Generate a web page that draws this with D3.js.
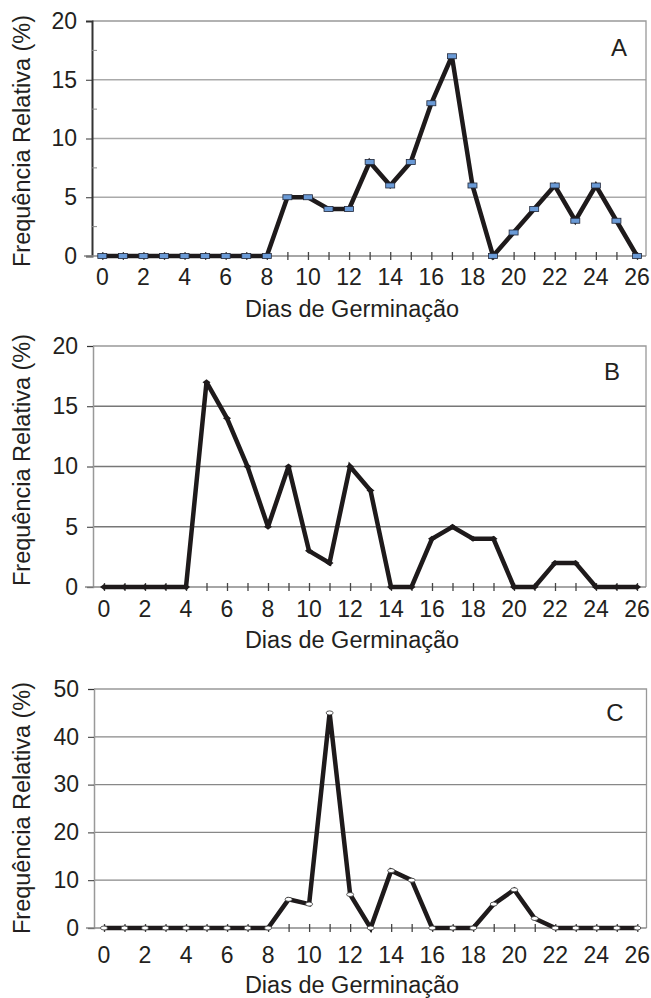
<!DOCTYPE html>
<html>
<head>
<meta charset="utf-8">
<script src="https://cdn.jsdelivr.net/npm/d3@7"></script>
<style>
  body { margin: 0; background: #fff; }
  text { font-family: "Liberation Sans", Arial, sans-serif; fill: #231f20; }
</style>
</head>
<body>
<div id="chart"></div>
<script>
// Dias de germinação (0 a 26)
const days = d3.range(0, 27);
const xTickLabels = [0, 2, 4, 6, 8, 10, 12, 14, 16, 18, 20, 22, 24, 26];

// Frequência relativa (%) por painel
const valuesA = [0, 0, 0, 0, 0, 0, 0, 0, 0, 5, 5, 4, 4, 8, 6, 8, 13, 17, 6, 0, 2, 4, 6, 3, 6, 3, 0];
const valuesB = [0, 0, 0, 0, 0, 17, 14, 10, 5, 10, 3, 2, 10, 8, 0, 0, 4, 5, 4, 4, 0, 0, 2, 2, 0, 0, 0];
const valuesC = [0, 0, 0, 0, 0, 0, 0, 0, 0, 6, 5, 45, 7, 0, 12, 10, 0, 0, 0, 5, 8, 2, 0, 0, 0, 0, 0];

const yTicksAB = [0, 5, 10, 15, 20];
const yTicksC = [0, 10, 20, 30, 40, 50];

const width = 651;
const height = 998;

const svg = d3.select("#chart")
    .append("svg")
    .attr("width", width)
    .attr("height", height);

const panels = [
  {label: "A", values: valuesA, yTicks: yTicksAB, yMax: 20, minor: true,
   left: 92, right: 646, top: 21, bottom: 256, x0: 102.3, x26: 637,
   axisColor: "#333", gridColor: "#aaa", marker: "rect",
   labelX: 619, labelY: 56, yTitleY: 141, xLabelDy: 29, xTitleY: 317},
  {label: "B", values: valuesB, yTicks: yTicksAB, yMax: 20, minor: false,
   left: 93, right: 646, top: 346, bottom: 587, x0: 104, x26: 637,
   axisColor: "#999", gridColor: "#777", marker: "diamond",
   labelX: 612, labelY: 380, yTitleY: 460, xLabelDy: 30, xTitleY: 648},
  {label: "C", values: valuesC, yTicks: yTicksC, yMax: 50, minor: false,
   left: 94, right: 646.5, top: 689, bottom: 928, x0: 104, x26: 637.3,
   axisColor: "#999", gridColor: "#888", marker: "circle",
   labelX: 615, labelY: 721, yTitleY: 808, xLabelDy: 35, xTitleY: 993}
];

panels.forEach(p => {
  const g = svg.append("g");

  const x = d3.scaleLinear().domain([0, 26]).range([p.x0, p.x26]);
  const y = d3.scaleLinear().domain([0, p.yMax]).range([p.bottom, p.top]);

  // grid lines
  g.selectAll(".grid")
    .data(p.yTicks.filter(t => t > 0 && t < p.yMax))
    .enter()
    .append("line")
    .attr("x1", p.left).attr("x2", p.right)
    .attr("y1", d => y(d)).attr("y2", d => y(d))
    .attr("stroke", p.gridColor)
    .attr("stroke-width", 1.3);

  // top and right border
  g.append("path")
    .attr("d", `M${p.left},${p.top}H${p.right}V${p.bottom}`)
    .attr("fill", "none")
    .attr("stroke", "#999")
    .attr("stroke-width", 1.3);

  // y axis
  const yAxis = g.append("g")
    .attr("transform", `translate(${p.left},0)`)
    .call(d3.axisLeft(y).tickValues(p.yTicks).tickSize(6).tickPadding(9));
  yAxis.select(".domain").attr("stroke", p.axisColor).attr("stroke-width", p.minor ? 2 : 1.5);
  yAxis.selectAll(".tick line").attr("stroke", "#333");
  yAxis.selectAll(".tick text")
    .style("font-family", "Liberation Sans, Arial, sans-serif")
    .style("font-size", "23px")
    .attr("fill", "#231f20");

  if (p.minor) {
    g.selectAll(".minor")
      .data(d3.range(2.5, p.yMax, 5))
      .enter()
      .append("line")
      .attr("x1", p.left).attr("x2", p.left + 5)
      .attr("y1", d => y(d)).attr("y2", d => y(d))
      .attr("stroke", "#888");
  }

  // x axis
  g.append("line")
    .attr("x1", p.left - 8).attr("x2", p.right)
    .attr("y1", p.bottom).attr("y2", p.bottom)
    .attr("stroke", "#888")
    .attr("stroke-width", 1.3);
  const xAxis = g.append("g")
    .attr("transform", `translate(0,${p.bottom})`)
    .call(d3.axisBottom(x).tickValues(days).tickSize(4).tickFormat(""));
  xAxis.select(".domain").remove();
  xAxis.selectAll(".tick line")
    .attr("y1", -4)
    .attr("stroke", "#444")
    .attr("stroke-width", 1.3);

  g.selectAll(".xlab")
    .data(xTickLabels)
    .enter()
    .append("text")
    .attr("x", d => x(d))
    .attr("y", p.bottom + p.xLabelDy)
    .attr("text-anchor", "middle")
    .style("font-size", "23px")
    .text(d => d);

  // line
  const line = d3.line()
    .x((d, i) => x(days[i]))
    .y(d => y(d));

  g.append("path")
    .datum(p.values)
    .attr("fill", "none")
    .attr("stroke", "#1e1a1b")
    .attr("stroke-width", 4.5)
    .attr("stroke-linejoin", "miter")
    .attr("stroke-miterlimit", 2.5)
    .attr("d", line);

  // markers
  if (p.marker === "rect") {
    g.selectAll(".mk")
      .data(p.values)
      .enter()
      .append("rect")
      .attr("x", (d, i) => x(days[i]) - 4.5)
      .attr("y", d => y(d) - 2.5)
      .attr("width", 9)
      .attr("height", 5)
      .attr("fill", "#6a9ad6")
      .attr("stroke", "#22283a")
      .attr("stroke-width", 0.8);
  } else if (p.marker === "diamond") {
    g.selectAll(".mk")
      .data(p.values)
      .enter()
      .append("path")
      .attr("d", (d, i) => {
        const cx = x(days[i]), cy = y(d);
        return `M${cx - 4},${cy}L${cx},${cy - 3}L${cx + 4},${cy}L${cx},${cy + 3}Z`;
      })
      .attr("fill", "#1e1a1b");
  } else {
    g.selectAll(".mk")
      .data(p.values)
      .enter()
      .append("ellipse")
      .attr("cx", (d, i) => x(days[i]))
      .attr("cy", d => y(d))
      .attr("rx", 3.5)
      .attr("ry", 2)
      .attr("fill", "#fff")
      .attr("stroke", "#333")
      .attr("stroke-width", 0.8);
  }

  // panel label
  g.append("text")
    .attr("x", p.labelX)
    .attr("y", p.labelY)
    .attr("text-anchor", "middle")
    .style("font-size", "24px")
    .text(p.label);

  // axis titles
  g.append("text")
    .attr("transform", `translate(30,${p.yTitleY}) rotate(-90)`)
    .attr("text-anchor", "middle")
    .style("font-size", "23.5px")
    .text("Frequência Relativa (%)");

  g.append("text")
    .attr("x", 352)
    .attr("y", p.xTitleY)
    .attr("text-anchor", "middle")
    .style("font-size", "23.5px")
    .text("Dias de Germinação");
});
</script>
</body>
</html>
